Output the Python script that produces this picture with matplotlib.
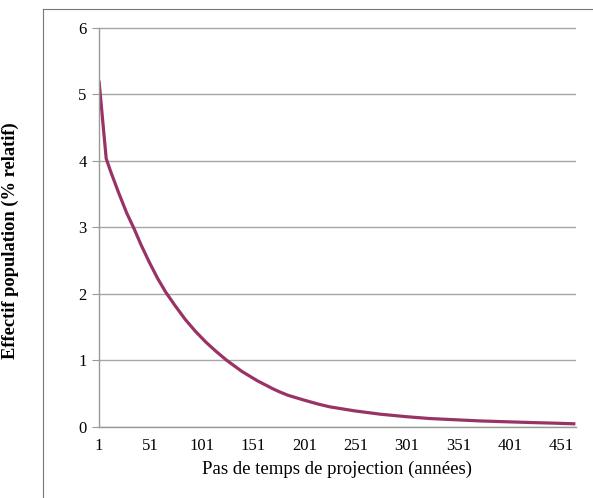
import matplotlib
matplotlib.use("Agg")
import matplotlib.pyplot as plt
from matplotlib.lines import Line2D

# values (time step, relative population %)
steps = [1, 4, 8, 12, 20, 28, 35, 42, 50, 58, 66, 75, 85, 95, 105, 115,
         125, 140, 155, 170, 177, 185, 200, 215, 226, 250, 275, 300, 323, 350,
         372, 400, 421, 445, 465]
effectif = [5.2, 4.7, 4.03, 3.85, 3.52, 3.21, 2.98, 2.73, 2.47,
            2.23, 2.02, 1.82, 1.61, 1.43, 1.27, 1.13, 1.0, 0.83, 0.69, 0.57,
            0.52, 0.47, 0.40, 0.335, 0.295, 0.235, 0.185, 0.148, 0.12, 0.10,
            0.084, 0.07, 0.06, 0.05, 0.04]
xticks = [1, 51, 101, 151, 201, 251, 301, 351, 401, 451]
yticks = [0, 1, 2, 3, 4, 5, 6]

plt.rcParams['font.family'] = ['Liberation Serif', 'DejaVu Serif']

fig = plt.figure(figsize=(5.93, 4.98), dpi=100)
ax = fig.add_axes([99/593, 1 - 426.5/498, (576-99)/593, (426.5-27.5)/498])

ax.plot(steps, effectif, color='#993366', linewidth=2.3,
        solid_joinstyle='round', solid_capstyle='butt')

ax.set_xlim(1, 465.6)
ax.set_ylim(0, 6)
ax.set_xticks(xticks)
ax.set_yticks(yticks)
ax.tick_params(axis='x', length=0, pad=8, labelsize=12)
ax.tick_params(axis='y', length=5, color='#999999', pad=4, labelsize=12)
ax.grid(axis='y', color='#a6a6a6', linewidth=1)
ax.set_axisbelow(True)
for s in ['top', 'right']:
    ax.spines[s].set_visible(False)
for s in ['left', 'bottom']:
    ax.spines[s].set_color('#999999')
    ax.spines[s].set_linewidth(1)

ax.set_xlabel('Pas de temps de projection (années)', fontsize=13.5, labelpad=5)
ax.set_ylabel('Effectif population (% relatif)', fontsize=13.3, fontweight='bold')
ax.yaxis.set_label_coords(-80/477, (426.5-241)/399)

# outer chart border (clipped on right and bottom)
fig.add_artist(Line2D([43/593, 43/593], [0, 1 - 9/498], color='#777777', linewidth=0.8))
fig.add_artist(Line2D([43/593, 1], [1 - 9/498, 1 - 9/498], color='#777777', linewidth=0.8))

fig.savefig("out.png", dpi=100)
